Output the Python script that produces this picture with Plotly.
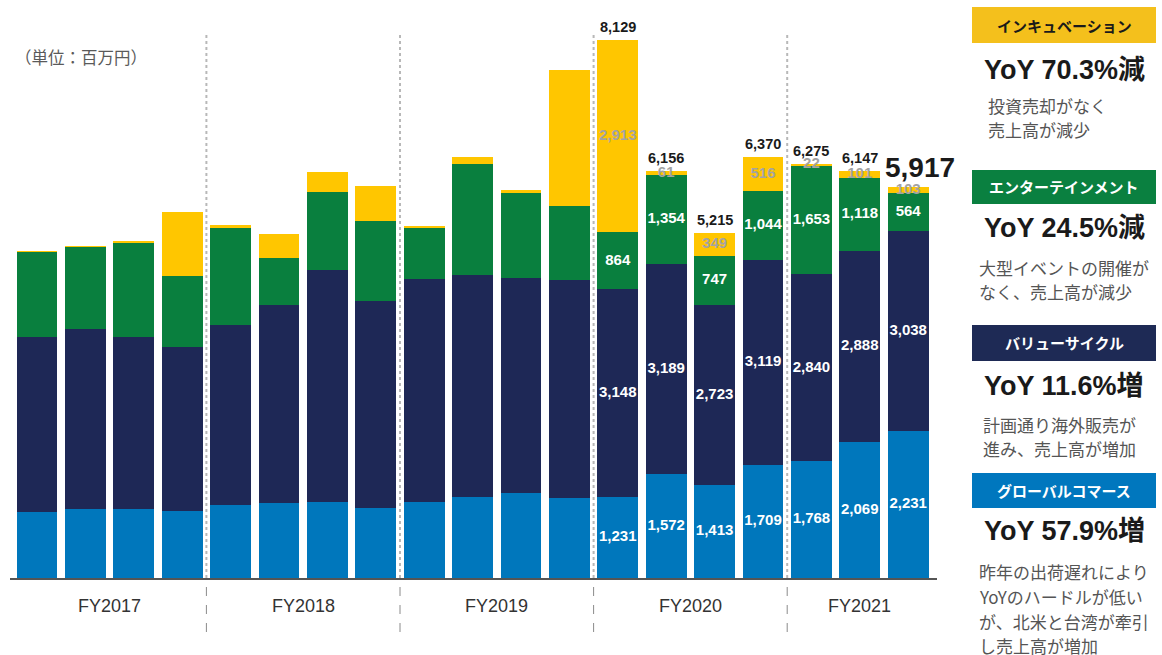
import plotly.graph_objects as go

# Quarterly sales by segment (million yen), FY2017 Q1 .. FY2021 Q3
fiscal_years = ["FY2017", "FY2018", "FY2019", "FY2020", "FY2021"]
quarters_per_year = [4, 4, 4, 4, 3]

global_commerce = [1004, 1044, 1044, 1024, 1115, 1135, 1156, 1059, 1156, 1236,
                   1286, 1221, 1231, 1572, 1413, 1709, 1768, 2069, 2231]
value_cycle = [2649, 2730, 2609, 2477, 2720, 2999, 3519, 3140, 3387, 3368,
               3268, 3297, 3148, 3189, 2723, 3119, 2840, 2888, 3038]
entertainment = [1295, 1255, 1441, 1083, 1487, 717, 1188, 1224, 769, 1669,
                 1279, 1122, 864, 1354, 747, 1044, 1653, 1118, 564]
incubation = [10, 5, 10, 965, 30, 375, 299, 527, 20, 117, 50, 2059,
              2913, 61, 349, 516, 22, 101, 103]

# Reported totals for the labelled quarters (FY2020 Q1 onward)
labelled_from = 12
reported_totals = [8129, 6156, 5215, 6370, 6275, 6147, 5917]

segment_names = ["グローバルコマース", "バリューサイクル", "エンターテインメント", "インキュベーション"]
segment_colors = ["#0077BC", "#1E2856", "#097F3E", "#FFC600"]
box_colors = ["#0077BE", "#1E2A55", "#0A8040", "#F4C01C"]

yoy_text = ["YoY 57.9%増", "YoY 11.6%増", "YoY 24.5%減", "YoY 70.3%減"]
notes = [
    ["昨年の出荷遅れにより", "YoYのハードルが低い", "が、北米と台湾が牽引", "し売上高が増加"],
    ["計画通り海外販売が", "進み、売上高が増加"],
    ["大型イベントの開催が", "なく、売上高が減少"],
    ["投資売却がなく", "売上高が減少"],
]

series = [global_commerce, value_cycle, entertainment, incubation]
n = len(global_commerce)
xs = list(range(n))

W, H = 1162, 655
L, R = 10, 937          # plot area, px
T, B = 10, 578
PX_PER_UNIT = 1 / 15.17
y_max = (B - T) / PX_PER_UNIT
x_lo = (L - 37) / 48.4
x_hi = (R - 37) / 48.4

NUM_FONT = "Liberation Sans, Arial, sans-serif"
JP_FONT = "Noto Sans CJK JP, sans-serif"

fig = go.Figure()
for vals, name, col in zip(series, segment_names, segment_colors):
    fig.add_trace(go.Bar(x=xs, y=vals, name=name, marker_color=col,
                         marker_line_width=0, width=0.845, hoverinfo="skip"))

# Segment value labels at the middle of each segment
label_colors = ["white", "white", "white", "#a3a3a3"]
base = [0] * n
for vals, lc in zip(series, label_colors):
    lx, ly, lt = [], [], []
    for i in range(n):
        if i >= labelled_from:
            lx.append(i)
            ly.append(base[i] + vals[i] / 2)
            lt.append(f"{vals[i]:,}")
        base[i] += vals[i]
    fig.add_trace(go.Scatter(x=lx, y=ly, text=lt, mode="text",
                             textfont=dict(family=NUM_FONT, size=15, color=lc, weight="bold"),
                             hoverinfo="skip", showlegend=False))

# Totals above the stacks
for k, tot in enumerate(reported_totals):
    i = labelled_from + k
    last = (i == n - 1)
    fig.add_annotation(x=i, y=base[i], text=f"{tot:,}", showarrow=False,
                       xref="x", yref="y", xanchor="center", yanchor="bottom",
                       xshift=12 if last else 0, yshift=2 if last else 3,
                       font=dict(family=NUM_FONT, size=28 if last else 14.5,
                                 color="#1a1a1a", weight="bold"))


def py(ypx):
    return (B - ypx) / (B - T)


def px_(xpx):
    return (xpx - L) / (R - L)


def note(x, y, text, font, xanchor="center"):
    fig.add_annotation(x=x, y=y, xref="paper", yref="paper", text=text,
                       showarrow=False, xanchor=xanchor, yanchor="middle", font=font)


# Fiscal year separators and labels
start = 0
for k, (fy, q) in enumerate(zip(fiscal_years, quarters_per_year)):
    center = start + (q - 1) / 2
    fig.add_annotation(x=center, y=py(606), xref="x", yref="paper", text=fy,
                       showarrow=False, xanchor="center", yanchor="middle",
                       font=dict(family="Liberation Sans Narrow, Liberation Sans, sans-serif",
                                 size=18, color="#333333"))
    if k > 0:
        sep = start - 0.5
        fig.add_shape(type="line", xref="x", yref="paper", x0=sep, x1=sep,
                      y0=0, y1=py(32), line=dict(color="#b8b8b8", width=2, dash="dot"))
        fig.add_shape(type="line", xref="x", yref="paper", x0=sep, x1=sep,
                      y0=py(632), y1=0, line=dict(color="#8a8a8a", width=1, dash="dash"))
    start += q

note(px_(13), py(57), "（単位：百万円）",
     dict(family=JP_FONT, size=16.5, color="#5a5a5a"), xanchor="left")

# Segment summary panel on the right
box_left, box_right = 972, 1156
box_mid = px_((box_left + box_right) / 2)
panel = [  # box top, box bottom, yoy centre, note line centres, note left
    (473, 508, 531, [571, 596, 621, 645], 977),
    (325, 361, 386, [424, 448], 981),
    (170, 204, 228, [267, 291], 977),
    (7, 43, 70, [105, 129], 986),
]
for idx, (bt, bb, yy, lines, nl) in enumerate(panel):
    fig.add_shape(type="rect", xref="paper", yref="paper",
                  x0=px_(box_left), x1=px_(box_right), y0=py(bb), y1=py(bt),
                  fillcolor=box_colors[idx], line_width=0)
    note(box_mid, py((bt + bb) / 2), segment_names[idx],
         dict(family=JP_FONT, size=15, weight="bold",
              color="#1a1a1a" if idx == 3 else "white"))
    note(box_mid, py(yy), yoy_text[idx],
         dict(family="Liberation Sans, Noto Sans CJK JP, sans-serif",
              size=27, weight="bold", color="#1a1a1a"))
    for line, ly in zip(notes[idx], lines):
        note(px_(nl), py(ly), line,
             dict(family=JP_FONT, size=17, color="#555555"), xanchor="left")

fig.update_layout(
    width=W, height=H, barmode="stack", showlegend=False,
    margin=dict(l=L, r=W - R, t=T, b=H - B, pad=0),
    paper_bgcolor="white", plot_bgcolor="white",
    xaxis=dict(range=[x_lo, x_hi], showgrid=False, zeroline=False,
               showticklabels=False, ticks="", showline=True,
               linecolor="#555555", linewidth=2, fixedrange=True),
    yaxis=dict(range=[0, y_max], visible=False, fixedrange=True),
)

fig.write_html("out.html", config={"displayModeBar": False})
